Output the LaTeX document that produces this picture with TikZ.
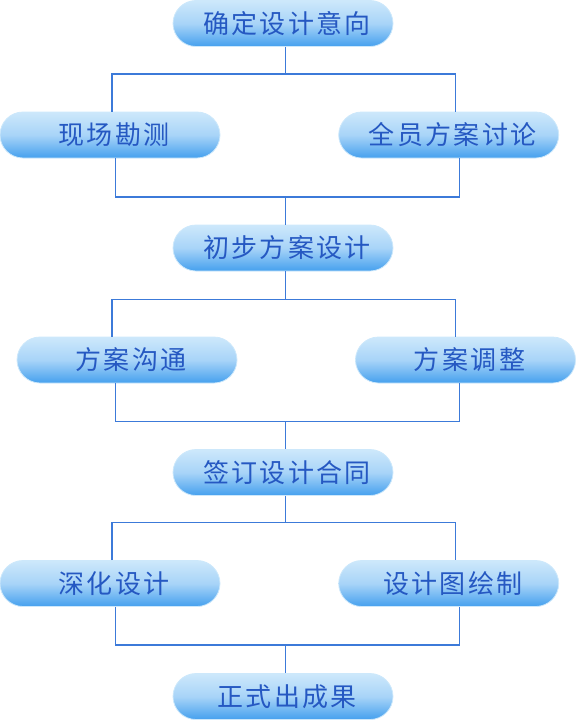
\documentclass[tikz,border=0pt]{standalone}
\usepackage{fontspec}
\newfontfamily\cjk[LetterSpace=9]{Noto Sans CJK SC}
\usepackage{tikz}
\definecolor{step_text}{HTML}{2558C2}
\definecolor{step_top}{HTML}{CDE8FB}
\definecolor{step_mid}{HTML}{A8D4F8}
\definecolor{step_bottom}{HTML}{45A0EE}
\definecolor{step_line}{HTML}{3C7AD9}

\begin{document}
\begin{tikzpicture}[x=1pt, y=-1pt,
    stepbox/.style={rectangle, rounded corners=23pt, minimum width=220pt, minimum height=46pt,
      inner sep=0pt, top color=step_top, bottom color=step_bottom, middle color=step_mid,
      draw=step_top, line width=0.8pt, text=step_text,
      font=\cjk\fontsize{26}{26}\selectfont, execute at begin node=\hspace*{8pt}},
    link/.style={step_line, line width=1.2pt}]
    \useasboundingbox (0,0) rectangle (576,720);

    % Steps of the design process
    \node[stepbox] (n1) at (283,23.5) {确定设计意向};
    \node[stepbox] (n2a) at (110,135) {现场勘测};
    \node[stepbox] (n2b) at (448.7,135) {全员方案讨论};
    \node[stepbox] (n3) at (283,248) {初步方案设计};
    \node[stepbox] (n4a) at (127,360) {方案沟通};
    \node[stepbox] (n4b) at (465.5,360) {方案调整};
    \node[stepbox] (n5) at (283,472.5) {签订设计合同};
    \node[stepbox] (n6a) at (110,583.5) {深化设计};
    \node[stepbox] (n6b) at (448.7,583.5) {设计图绘制};
    \node[stepbox] (n7) at (283,696.5) {正式出成果};

    % Columns of the branch lines
    \coordinate (colL) at (112,0);
    \coordinate (colLb) at (115.7,0);
    \coordinate (colR) at (455.7,0);
    \coordinate (colRb) at (459.3,0);

    % Fork and join after the first step
    \coordinate (f1) at (285.7,74);
    \coordinate (g1) at (285.7,197);
    \draw[link] (n1.south -| f1) -- (f1);
    \draw[link] (n2a.north -| colL) |- (f1) -| (n2b.north -| colR);
    \draw[link] (n2a.south -| colLb) |- (g1) -| (n2b.south -| colRb);
    \draw[link] (g1) -- (n3.north -| g1);

    % Fork and join after the first draft
    \coordinate (f2) at (285.7,299.3);
    \coordinate (g2) at (285.7,421.7);
    \draw[link] (n3.south -| f2) -- (f2);
    \draw[link] (n4a.north -| colL) |- (f2) -| (n4b.north -| colR);
    \draw[link] (n4a.south -| colLb) |- (g2) -| (n4b.south -| colRb);
    \draw[link] (g2) -- (n5.north -| g2);

    % Fork and join after the contract
    \coordinate (f3) at (285.7,522.3);
    \coordinate (g3) at (285.7,645);
    \draw[link] (n5.south -| f3) -- (f3);
    \draw[link] (n6a.north -| colL) |- (f3) -| (n6b.north -| colR);
    \draw[link] (n6a.south -| colLb) |- (g3) -| (n6b.south -| colRb);
    \draw[link] (g3) -- (n7.north -| g3);
\end{tikzpicture}
\end{document}
